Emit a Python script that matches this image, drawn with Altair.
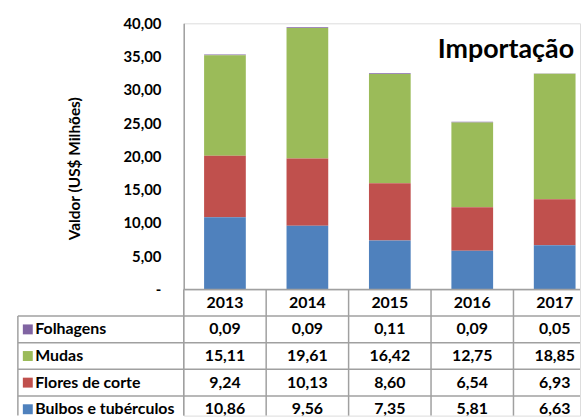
import altair as alt
import pandas as pd

years = ["2013", "2014", "2015", "2016", "2017"]
series = ["Folhagens", "Mudas", "Flores de corte", "Bulbos e tubérculos"]
folhagens = [0.09, 0.09, 0.11, 0.09, 0.05]
mudas = [15.11, 19.61, 16.42, 12.75, 18.85]
flores = [9.24, 10.13, 8.60, 6.54, 6.93]
bulbos = [10.86, 9.56, 7.35, 5.81, 6.63]
colors = ["#8064A2", "#9BBB59", "#C0504D", "#4F81BD"]
y_ticks = [0, 5, 10, 15, 20, 25, 30, 35, 40]

values_by_series = {"Folhagens": folhagens, "Mudas": mudas,
                    "Flores de corte": flores, "Bulbos e tubérculos": bulbos}
stack_order = {"Bulbos e tubérculos": 0, "Flores de corte": 1, "Mudas": 2, "Folhagens": 3}

rows = []
for s in series:
    for y, v in zip(years, values_by_series[s]):
        rows.append({"year": y, "series": s, "value": v, "order": stack_order[s]})
df = pd.DataFrame(rows)

def fmt(v):
    return f"{v:.2f}".replace(".", ",")

table_rows = [{"row": "header", "year": y, "text": y} for y in years]
for s in series:
    for y, v in zip(years, values_by_series[s]):
        table_rows.append({"row": s, "year": y, "text": fmt(v)})
table_df = pd.DataFrame(table_rows)
row_domain = ["header"] + series

W = 399          # visible plot width (chart is cut at the right edge)
X_RANGE = 415    # full width of the five year columns
H_TOP = 268
ROW_H = 26.8
H_BOT_FULL = ROW_H * len(row_domain)
H_BOT = 127      # visible part of the table
FONT = "Lato"
GRID = "#a0a0a0"

x_scale = alt.Scale(domain=years, paddingInner=0, paddingOuter=0, range=[0, X_RANGE])
color_scale = alt.Scale(domain=series, range=colors)

bars = alt.Chart(df).mark_bar(size=42).encode(
    x=alt.X("year:N", scale=x_scale, axis=None),
    y=alt.Y("value:Q", stack="zero",
            scale=alt.Scale(domain=[0, 40], nice=False),
            axis=alt.Axis(values=y_ticks, grid=False, ticks=False,
                          labelPadding=23, labelFont=FONT, labelFontSize=15,
                          labelFontWeight="bold", labelColor="black",
                          labelExpr="datum.value == 0 ? '-\u00a0\u00a0' : replace(format(datum.value, '.2f'), '.', ',')",
                          domainColor=GRID, domainWidth=1.5,
                          title="Valdor (US$ Milhões)", titleFont=FONT,
                          titleFontSize=15.5, titleFontWeight="bold",
                          titleColor="black", titlePadding=41, titleY=146)),
    color=alt.Color("series:N", scale=color_scale, legend=None),
    order=alt.Order("order:Q"),
)

title_txt = alt.Chart(pd.DataFrame({"t": ["Importação"]})).mark_text(
    font=FONT, fontSize=27, fontWeight="bold", align="right", baseline="alphabetic",
    color="black").encode(text="t:N", x=alt.value(393), y=alt.value(35))

top = alt.layer(bars, title_txt).properties(width=W, height=H_TOP)

y_enc_axis = alt.Axis(labelAlign="left", labelPadding=150, ticks=False, domain=False,
                      labelFont=FONT, labelFontSize=16, labelFontWeight="bold",
                      labelColor="black", title=None,
                      labelExpr="datum.value == 'header' ? '' : datum.value")
y_scale = alt.Scale(domain=row_domain, paddingInner=0, paddingOuter=0, range=[0, H_BOT_FULL])

texts = alt.Chart(table_df).mark_text(
    font=FONT, fontSize=16, fontWeight="bold", color="black", clip=True).encode(
    x=alt.X("year:N", scale=x_scale, axis=None),
    y=alt.Y("row:N", scale=y_scale, axis=y_enc_axis),
    text="text:N",
)

vlines = alt.Chart(pd.DataFrame({"year": years})).mark_rule(
    color=GRID, strokeWidth=1.5).encode(
    x=alt.X("year:N", bandPosition=0, scale=x_scale),
    y=alt.value(0), y2=alt.value(H_BOT))

hlines_data = alt.Chart(pd.DataFrame({"row": series})).mark_rule(
    color=GRID, strokeWidth=1.5).encode(
    y=alt.Y("row:N", bandPosition=0, scale=y_scale),
    x=alt.value(-167), x2=alt.value(W))

hline_header = alt.Chart(pd.DataFrame({"row": ["header"]})).mark_rule(
    color=GRID, strokeWidth=1.5).encode(
    y=alt.Y("row:N", bandPosition=0, scale=y_scale),
    x=alt.value(0), x2=alt.value(W))

vline_left = alt.Chart(pd.DataFrame({"row": ["Folhagens"]})).mark_rule(
    color=GRID, strokeWidth=1.5).encode(
    y=alt.Y("row:N", bandPosition=0, scale=y_scale),
    y2=alt.value(H_BOT),
    x=alt.value(-167))

squares = alt.Chart(pd.DataFrame({"row": series})).mark_square(
    size=100, opacity=1).encode(
    y=alt.Y("row:N", scale=y_scale),
    x=alt.value(-157),
    color=alt.Color("row:N", scale=color_scale, legend=None))

bottom = alt.layer(texts, vlines, hlines_data, hline_header, vline_left, squares).properties(
    width=W, height=H_BOT)

chart = alt.vconcat(top, bottom, spacing=0, bounds="flush").properties(
    padding={"left": 16, "top": 14, "right": 0, "bottom": 0}
).configure_view(stroke=None).configure(background="white")

chart.save("out.html", embed_options={"renderer": "svg", "actions": False})
